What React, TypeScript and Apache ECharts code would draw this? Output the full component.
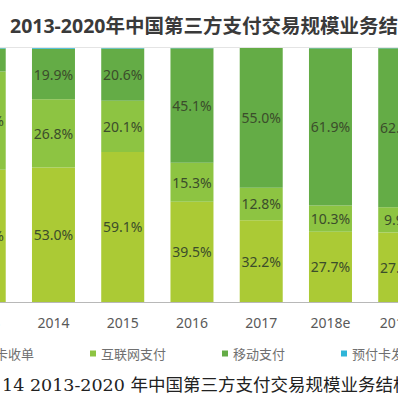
import React, { useEffect, useRef } from "react";
import * as echarts from "echarts";

const categories = ["2013", "2014", "2015", "2016", "2017", "2018e", "2019e", "2020e"];
const bankCard = [52.1, 53.0, 59.1, 39.5, 32.2, 27.7, 27.4, 27.0];
const internetPay = [38.6, 26.8, 20.1, 15.3, 12.8, 10.3, 9.9, 9.5];
const mobilePay = [9.1, 19.9, 20.6, 45.1, 55.0, 61.9, 62.6, 63.4];
const prepaidCard = [0.2, 0.3, 0.2, 0.1, 0.0, 0.1, 0.1, 0.1];
const seriesNames = ["银行卡收单", "互联网支付", "移动支付", "预付卡发卡与受理"];
const titleText = "2013-2020年中国第三方支付交易规模业务结构";
const captionText = "图 14 2013-2020 年中国第三方支付交易规模业务结构";

const OFFSET = 60;

export default function App() {
  const ref = useRef<HTMLDivElement>(null);
  useEffect(() => {
    if (!ref.current) return;
    const chart = echarts.init(ref.current, null, { renderer: "svg" });
    const colors = ["#abca35", "#8dc442", "#64ac46", "#2fb5d8"];
    const label = {
      show: true,
      position: "inside",
      fontSize: 14,
      color: "#3b4d2b",
      fontFamily: "Noto Sans, sans-serif",
      formatter: (p: any) => Number(p.value).toFixed(1) + "%",
    };
    const datas = [bankCard, internetPay, mobilePay, prepaidCard];
    chart.setOption({
      animation: false,
      color: colors,
      grid: { left: 9.6, width: 554, top: 48, height: 254 },
      xAxis: {
        type: "category",
        data: categories,
        axisLine: { lineStyle: { color: "#b8b8b8", width: 1 } },
        axisTick: { show: false },
        axisLabel: { fontSize: 14, color: "#595959", margin: 13, fontFamily: "Noto Sans, sans-serif" },
      },
      yAxis: { type: "value", min: 0, max: 100, show: false, splitLine: { show: false } },
      legend: {
        data: seriesNames,
        left: 13,
        top: 342,
        icon: "rect",
        itemWidth: 6,
        itemHeight: 6,
        itemGap: 56,
        textStyle: { fontSize: 13, color: "#707070", fontFamily: "Noto Sans CJK SC, sans-serif" },
      },
      graphic: [
        {
          type: "line",
          shape: { x1: OFFSET, y1: 47.5, x2: OFFSET + 398, y2: 47.5 },
          style: { stroke: "#e4e4e4", lineWidth: 1 },
          z: 100,
        },
        {
          type: "text",
          x: OFFSET + 10,
          y: 25,
          style: {
            text: titleText,
            fontSize: 19.5,
            fontWeight: "bold",
            fill: "#3a3a3a",
            fontFamily: "Noto Sans, Noto Sans CJK SC, sans-serif",
            verticalAlign: "middle",
          },
        },
        {
          type: "text",
          x: OFFSET - 21,
          y: 385,
          style: {
            text: captionText,
            fontSize: 17.5,
            fill: "#222222",
            fontFamily: "DejaVu Serif, Noto Sans CJK SC, serif",
            verticalAlign: "middle",
          },
        },
      ],
      series: seriesNames.map((name, i) => ({
        name,
        type: "bar",
        stack: "total",
        barWidth: 43,
        data: datas[i],
        label: i < 3 ? label : { show: false },
        itemStyle: { color: colors[i] },
      })),
    });
    return () => chart.dispose();
  }, []);
  return (
    <div style={{ position: "fixed", left: 0, top: 0, width: 398, height: 398, overflow: "hidden", background: "#fff" }}>
      <div ref={ref} style={{ position: "absolute", left: -OFFSET, top: 0, width: 600, height: 398 }} />
    </div>
  );
}
